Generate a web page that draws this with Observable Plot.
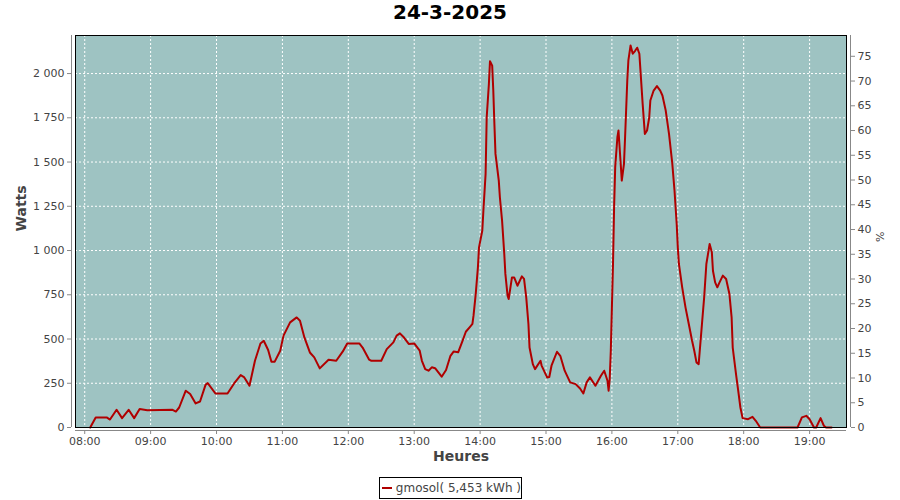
<!DOCTYPE html>
<html>
<head>
<meta charset="utf-8">
<script src="https://cdn.jsdelivr.net/npm/d3@7"></script>
<script src="https://cdn.jsdelivr.net/npm/@observablehq/plot@0.6"></script>
<style>
  body { margin: 0; background: #fff; width: 900px; height: 500px; overflow: hidden; position: relative; font-family: "DejaVu Sans", sans-serif; }
  #title { height: 30px; line-height: 30px; text-align: center; font: bold 20px "DejaVu Sans", sans-serif; color: #000; }
  #chart { height: 440px; }
  #legend { position: absolute; left: 379px; top: 477px; width: 141px; height: 20px; border: 1px solid #000; box-sizing: content-box; display: flex; align-items: center; font: 12px "DejaVu Sans", sans-serif; color: #444; white-space: nowrap; }
  #legend .sw { width: 16px; height: 2px; background: #b00000; margin: 0 4px 0 2px; }
</style>
</head>
<body>
<div id="title">24-3-2025</div>
<div id="chart"></div>
<div id="legend"><span class="sw"></span><span>gmosol( 5,453 kWh )</span></div>
<script>
const times = ["08:05","08:10","08:20","08:23","08:29","08:34","08:40","08:45","08:50","08:57",
"09:20","09:23","09:26","09:32","09:36","09:41","09:45","09:50","09:52","09:59",
"10:10","10:16","10:22","10:25","10:30","10:35","10:40","10:43","10:47","10:50","10:53","10:58",
"11:01","11:07","11:13","11:16","11:20","11:25","11:29","11:34","11:42","11:49","11:55","11:59",
"12:10","12:13","12:19","12:21","12:30","12:35","12:41","12:44","12:47","12:50","12:55",
"13:00","13:05","13:07","13:10","13:13","13:16","13:19","13:22","13:25","13:29","13:33","13:36","13:40","13:44","13:47","13:51","13:53","13:54","13:56","13:58","13:59",
"14:02","14:03","14:05","14:06","14:08","14:09","14:11","14:12","14:13","14:14","14:17","14:18","14:20","14:22","14:23","14:25","14:26","14:29","14:31","14:34","14:38","14:40","14:42","14:44","14:45","14:48","14:50","14:55","14:56",
"15:01","15:03","15:05","15:10","15:13","15:17","15:22","15:27","15:31","15:34","15:37","15:40","15:45","15:50","15:53","15:56","15:57","15:58","15:59",
"16:00","16:01","16:02","16:03","16:05","16:06","16:08","16:09","16:11","16:12","16:14","16:15","16:17","16:19","16:21","16:23","16:25","16:26","16:28","16:30","16:32","16:34","16:35","16:38","16:41","16:44","16:46","16:49","16:52","16:55","16:57","16:59",
"17:00","17:01","17:04","17:07","17:10","17:13","17:15","17:17","17:19","17:20","17:22","17:24","17:26","17:28","17:29","17:31","17:32","17:34","17:36","17:38","17:41","17:44","17:47","17:49","17:50","17:53","17:55","17:57","17:59",
"18:04","18:08","18:11","18:15","18:49","18:53","18:57",
"19:00","19:04","19:06","19:10","19:13","19:15","19:20"];
const watts = [0,57,57,45,100,53,100,53,104,98,
100,90,113,208,189,136,147,241,251,192,
192,249,296,285,236,377,475,490,438,372,372,434,
519,594,622,603,509,424,396,334,383,377,430,475,
475,452,383,377,377,443,481,519,532,513,472,
475,434,377,330,321,340,335,311,287,325,405,430,425,490,541,570,585,632,754,905,1018,
1113,1226,1433,1753,1942,2070,2045,1904,1716,1546,1395,1301,1169,981,868,745,726,848,848,801,854,840,735,585,452,358,330,377,350,
283,285,349,428,405,321,255,245,220,192,255,283,236,292,321,264,208,274,434,
679,924,1244,1471,1640,1678,1490,1395,1490,1640,1961,2074,2159,2112,2127,2146,2112,2018,1829,1659,1678,1753,1848,1904,1929,1904,1876,1791,1659,1490,1339,1150,
1018,924,792,679,585,490,434,368,358,434,585,735,924,999,1037,990,886,820,792,820,858,839,754,622,452,302,208,113,53,
47,60,38,0,0,57,66,
47,0,0,53,10,0,0];

const hourTicks = [8,9,10,11,12,13,14,15,16,17,18,19];
const wattTicks = [0,250,500,750,1000,1250,1500,1750,2000];
const pctTicks = [0,5,10,15,20,25,30,35,40,45,50,55,60,65,70,75];
const xDomain = [7.86, 19.56];
const yDomain = [0, 2215];
const pctMax = 79.2;

const ratio = yDomain[1] / pctMax;
const data = times.map((t, i) => ({h: +t.slice(0, 2) + +t.slice(3, 5) / 60, w: watts[i]}));
const fmtW = d => d3.format(",")(d).replace(/,/g, " ");
const fmtH = h => String(h).padStart(2, "0") + ":00";

const chart = Plot.plot({
  width: 900, height: 440,
  marginTop: 5, marginBottom: 43, marginLeft: 75, marginRight: 54,
  x: {domain: xDomain},
  y: {domain: yDomain},
  style: {fontFamily: "DejaVu Sans, sans-serif", fontSize: "11px", color: "#444", background: "transparent", overflow: "visible"},
  marks: [
    Plot.frame({fill: "#9ec3c2", stroke: null}),
    Plot.gridX(hourTicks, {stroke: "#fff", strokeOpacity: 1, strokeDasharray: "2,2"}),
    Plot.gridY(wattTicks.filter(d => d > 0), {stroke: "#fff", strokeOpacity: 1, strokeDasharray: "2,2"}),
    Plot.line(data, {x: "h", y: "w", stroke: "#b00000", strokeWidth: 2}),
    Plot.frame({stroke: "#000"}),
    Plot.ruleX([xDomain[0]], {dx: -4, stroke: "#888"}),
    Plot.ruleX([xDomain[1]], {dx: 4, stroke: "#888"}),
    Plot.ruleY([yDomain[0]], {dy: 3, stroke: "#888"}),
    Plot.axisY(wattTicks, {anchor: "left", dx: -4, tickSize: 4, tickPadding: 3, tickFormat: fmtW, label: null, stroke: "#888", fill: "#444"}),
    Plot.axisY(pctTicks.map(p => p * ratio), {anchor: "right", dx: 4, tickSize: 4, tickPadding: 3, tickFormat: d => Math.round(d / ratio), label: null, stroke: "#888", fill: "#444"}),
    Plot.axisX(hourTicks, {anchor: "bottom", dy: 3, tickSize: 4, tickPadding: 3, tickFormat: fmtH, label: null, stroke: "#888", fill: "#444"}),
    Plot.text(["Watts"], {frameAnchor: "left", text: d => d, rotate: -90, dx: -54, fontSize: 14, fontWeight: "bold", fill: "#444"}),
    Plot.text(["%"], {frameAnchor: "right", text: d => d, rotate: -90, dx: 34, fontSize: 11, fill: "#444"}),
    Plot.text(["Heures"], {frameAnchor: "bottom", text: d => d, dy: 33, fontSize: 14, fontWeight: "bold", fill: "#444"})
  ]
});
document.getElementById("chart").appendChild(chart);
</script>
</body>
</html>
